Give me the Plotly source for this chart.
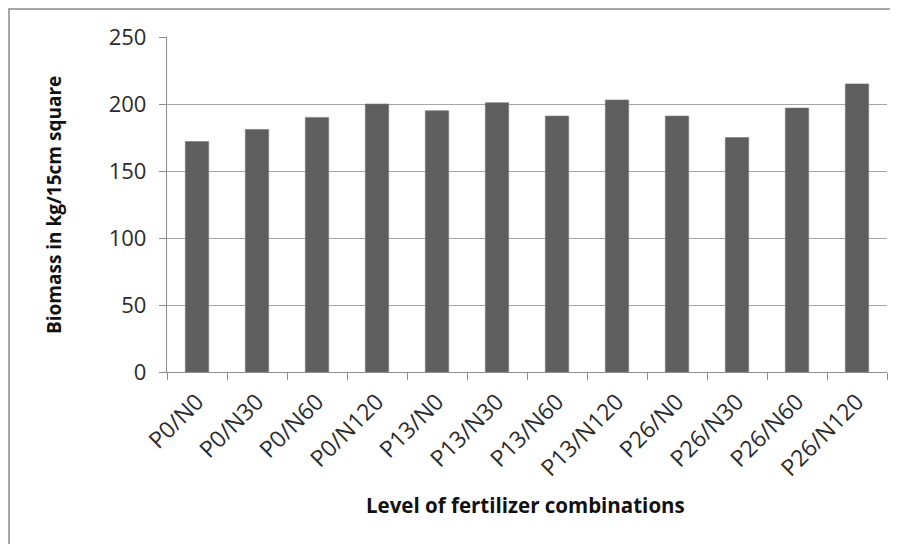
import plotly.graph_objects as go

categories = ["P0/N0", "P0/N30", "P0/N60", "P0/N120", "P13/N0", "P13/N30",
              "P13/N60", "P13/N120", "P26/N0", "P26/N30", "P26/N60", "P26/N120"]
biomass = [172, 181, 190, 200, 195, 201, 191, 203, 191, 175, 197, 215]
y_ticks = [0, 50, 100, 150, 200, 250]

W, H = 898, 544
L, R, T, B = 159, 19, 29, 180
pw, ph = W - L - R, H - T - B

def px(x):
    return (x - L) / pw

def py(y):
    return (H - B - y) / ph

fig = go.Figure()
fig.add_trace(go.Bar(
    x=categories, y=biomass,
    marker=dict(color="#5e5e5e", line=dict(color="#7a7a7a", width=0.6)),
    width=0.39,
))

fig.update_layout(
    width=W, height=H,
    margin=dict(l=L, r=R, t=T, b=B, autoexpand=False),
    paper_bgcolor="white", plot_bgcolor="white",
    showlegend=False,
    font=dict(family="Open Sans, sans-serif", color="#333333"),
    xaxis=dict(
        type="category",
        tickangle=-45,
        tickfont=dict(size=23, color="#2b2b2b"),
        showline=True, linecolor="#8c8c8c", linewidth=1.3,
        ticks="outside", ticklen=7, tickcolor="#8c8c8c", tickwidth=1.3,
        tickson="boundaries",
        ticklabelstandoff=6,
        showgrid=False,
        automargin=False,
    ),
    yaxis=dict(
        range=[0, 250],
        tickvals=y_ticks,
        tickfont=dict(size=22, color="#2b2b2b"),
        showline=True, linecolor="#8c8c8c", linewidth=1.3,
        ticks="outside", ticklen=7, tickcolor="#8c8c8c", tickwidth=1.3,
        showgrid=True, gridcolor="#a6a6a6", gridwidth=1.3,
        zeroline=False,
        ticklabelstandoff=8,
        automargin=False,
    ),
    shapes=[dict(
        type="rect", xref="paper", yref="paper",
        x0=px(1), y0=py(560), x1=px(915), y1=py(1),
        line=dict(color="#8a8a8a", width=1.5),
        fillcolor="rgba(0,0,0,0)", layer="below",
    )],
    annotations=[
        dict(text="<b>Biomass in kg/15cm square</b>", xref="paper", yref="paper",
             x=px(46), y=py(197), textangle=-90, showarrow=False,
             font=dict(size=19, color="#111111"), xanchor="center", yanchor="middle"),
        dict(text="<b>Level of fertilizer combinations</b>", xref="paper", yref="paper",
             x=px(517), y=py(497), showarrow=False,
             font=dict(size=20.5, color="#111111"), xanchor="center", yanchor="middle"),
    ],
)

fig.write_html("out.html")
